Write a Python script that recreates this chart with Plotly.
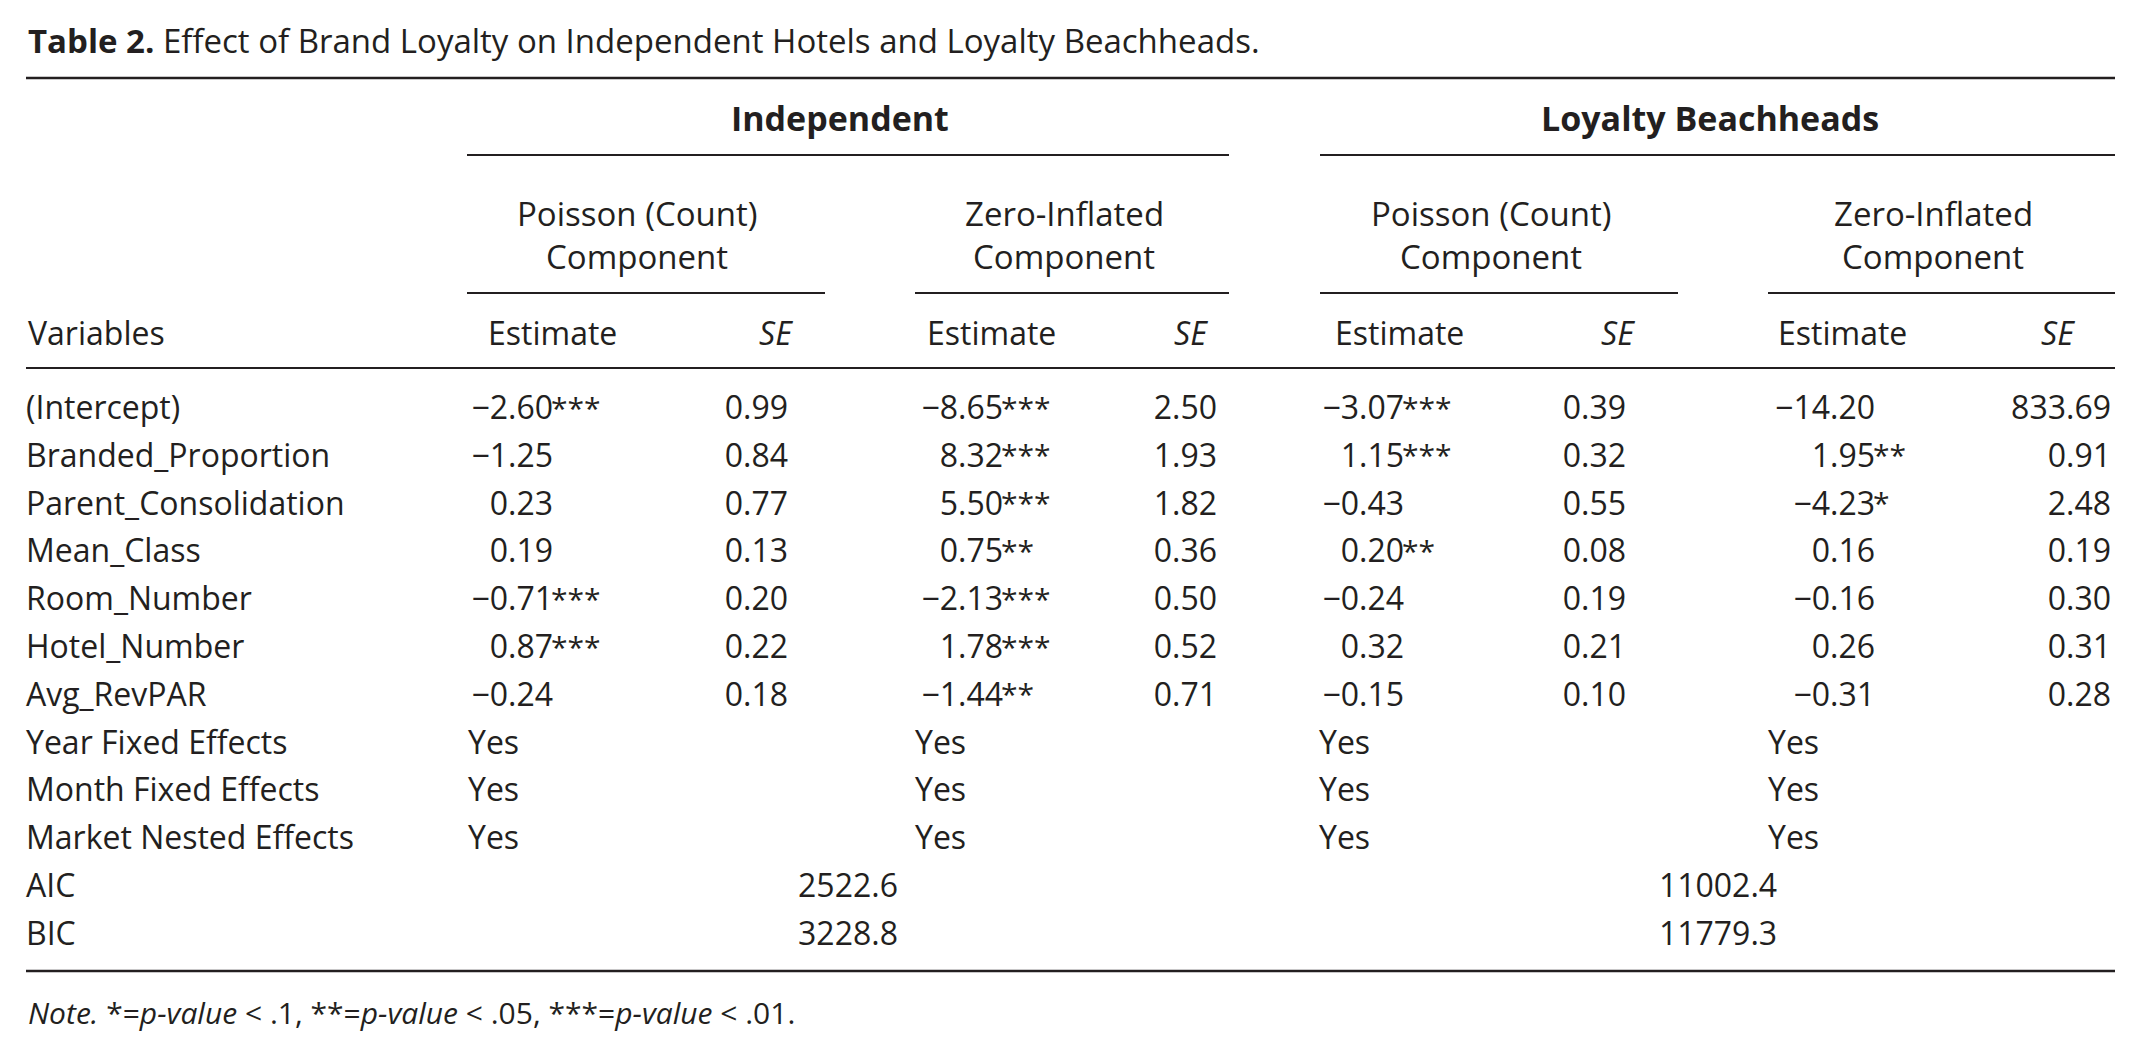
import plotly.graph_objects as go

# table values
variables = ["(Intercept)", "Branded_Proportion", "Parent_Consolidation", "Mean_Class",
             "Room_Number", "Hotel_Number", "Avg_RevPAR"]

ind_pois_est = [-2.60, -1.25, 0.23, 0.19, -0.71, 0.87, -0.24]
ind_pois_sig = ["***", "", "", "", "***", "***", ""]
ind_pois_se = [0.99, 0.84, 0.77, 0.13, 0.20, 0.22, 0.18]

ind_zi_est = [-8.65, 8.32, 5.50, 0.75, -2.13, 1.78, -1.44]
ind_zi_sig = ["***", "***", "***", "**", "***", "***", "**"]
ind_zi_se = [2.50, 1.93, 1.82, 0.36, 0.50, 0.52, 0.71]

lb_pois_est = [-3.07, 1.15, -0.43, 0.20, -0.24, 0.32, -0.15]
lb_pois_sig = ["***", "***", "", "**", "", "", ""]
lb_pois_se = [0.39, 0.32, 0.55, 0.08, 0.19, 0.21, 0.10]

lb_zi_est = [-14.20, 1.95, -4.23, 0.16, -0.16, 0.26, -0.31]
lb_zi_sig = ["", "**", "*", "", "", "", ""]
lb_zi_se = [833.69, 0.91, 2.48, 0.19, 0.30, 0.31, 0.28]

effects = ["Year Fixed Effects", "Month Fixed Effects", "Market Nested Effects"]
effect_included = ["Yes", "Yes", "Yes"]

fit_stats = ["AIC", "BIC"]
ind_fit = [2522.6, 3228.8]
lb_fit = [11002.4, 11779.3]

FONT = "Open Sans"
INK = "#231f20"
SIZE = 32
W, H = 2141, 1056
PAD = 8  # page body margin, so axis units equal page pixels
ROW0, ROW_H = 411, 47.8
LEFT, RIGHT = 26, 2115


def fmt(v, d=2):
    return f"{v:.{d}f}".replace("-", "\u2212")


def row_y(i):
    return ROW0 + ROW_H * i


fig = go.Figure()


def text_col(x, ys, texts, pos, size=SIZE):
    fig.add_trace(go.Scatter(x=[x] * len(ys), y=ys, text=texts, mode="text",
                             textposition=pos, hoverinfo="skip",
                             textfont=dict(family=FONT, size=size, color=INK)))


n = len(variables)
coef_rows = [row_y(i) for i in range(n)]
eff_rows = [row_y(n + i) for i in range(len(effects))]
fit_rows = [row_y(n + len(effects) + i) for i in range(len(fit_stats))]

# row labels
text_col(LEFT, coef_rows + eff_rows + fit_rows, variables + effects + fit_stats, "middle right")

# estimate / SE columns: (estimate right edge, se right edge, data, "Yes" left edge)
blocks = [
    (553, 788, ind_pois_est, ind_pois_sig, ind_pois_se, 468),
    (1003, 1217, ind_zi_est, ind_zi_sig, ind_zi_se, 915),
    (1404, 1626, lb_pois_est, lb_pois_sig, lb_pois_se, 1319),
    (1875, 2111, lb_zi_est, lb_zi_sig, lb_zi_se, 1768),
]
for ex, sx, est, sig, se, yes_x in blocks:
    text_col(ex, coef_rows, [fmt(v) for v in est], "middle left")
    text_col(ex - 2, coef_rows, sig, "middle right", size=30)
    text_col(sx, coef_rows, [fmt(v) for v in se], "middle left")
    text_col(yes_x, eff_rows, effect_included, "middle right")

text_col(848, fit_rows, [fmt(v, 1) for v in ind_fit], "middle center")
text_col(1718, fit_rows, [fmt(v, 1) for v in lb_fit], "middle center")

# headers, title and note
ann = []


def label(x, y, t, anchor="center", size=SIZE):
    ann.append(dict(x=x, y=y, xref="x", yref="y", text=t, showarrow=False,
                    xanchor=anchor, yanchor="middle",
                    font=dict(family=FONT, size=size, color=INK)))


label(LEFT, 40, "<b>Table 2.</b> Effect of Brand Loyalty on Independent Hotels and Loyalty Beachheads.",
      "left", size=33)
label(840, 118, "<b>Independent</b>", size=34)
label(1710, 118, "<b>Loyalty Beachheads</b>", size=34)
for cx, l1 in [(637, "Poisson (Count)"), (1064, "Zero-Inflated"),
               (1491, "Poisson (Count)"), (1933, "Zero-Inflated")]:
    label(cx, 213, l1, size=33)
    label(cx, 256, "Component", size=33)
label(LEFT, 332, "Variables", "left")
for est_left, se_right in [(486, 795), (925, 1210), (1333, 1637), (1776, 2077)]:
    label(est_left, 332, "Estimate", "left")
    label(se_right, 332, "<i>SE</i>", "right")
label(LEFT, 1012, "<i>Note.</i> *=<i>p-value</i> &lt; .1, **=<i>p-value</i> &lt; .05, "
      "***=<i>p-value</i> &lt; .01.", "left", size=30)

# rules
shapes = []


def rule(x0, x1, y, w):
    shapes.append(dict(type="line", xref="x", yref="y", x0=x0, x1=x1, y0=y, y1=y,
                       line=dict(color=INK, width=w)))


rule(LEFT, RIGHT, 78, 2.5)
rule(467, 1229, 155, 2)
rule(1320, RIGHT, 155, 2)
for x0, x1 in [(467, 825), (915, 1229), (1320, 1678), (1768, RIGHT)]:
    rule(x0, x1, 293, 2)
rule(LEFT, RIGHT, 368, 2)
rule(LEFT, RIGHT, 971, 2.5)

fig.update_layout(
    width=W - 2 * PAD, height=H - 2 * PAD, margin=dict(l=0, r=0, t=0, b=0),
    paper_bgcolor="white", plot_bgcolor="white", showlegend=False,
    xaxis=dict(range=[PAD, W - PAD], visible=False, fixedrange=True),
    yaxis=dict(range=[H - PAD, PAD], visible=False, fixedrange=True),
    annotations=ann, shapes=shapes,
)
fig.write_html("out.html")
